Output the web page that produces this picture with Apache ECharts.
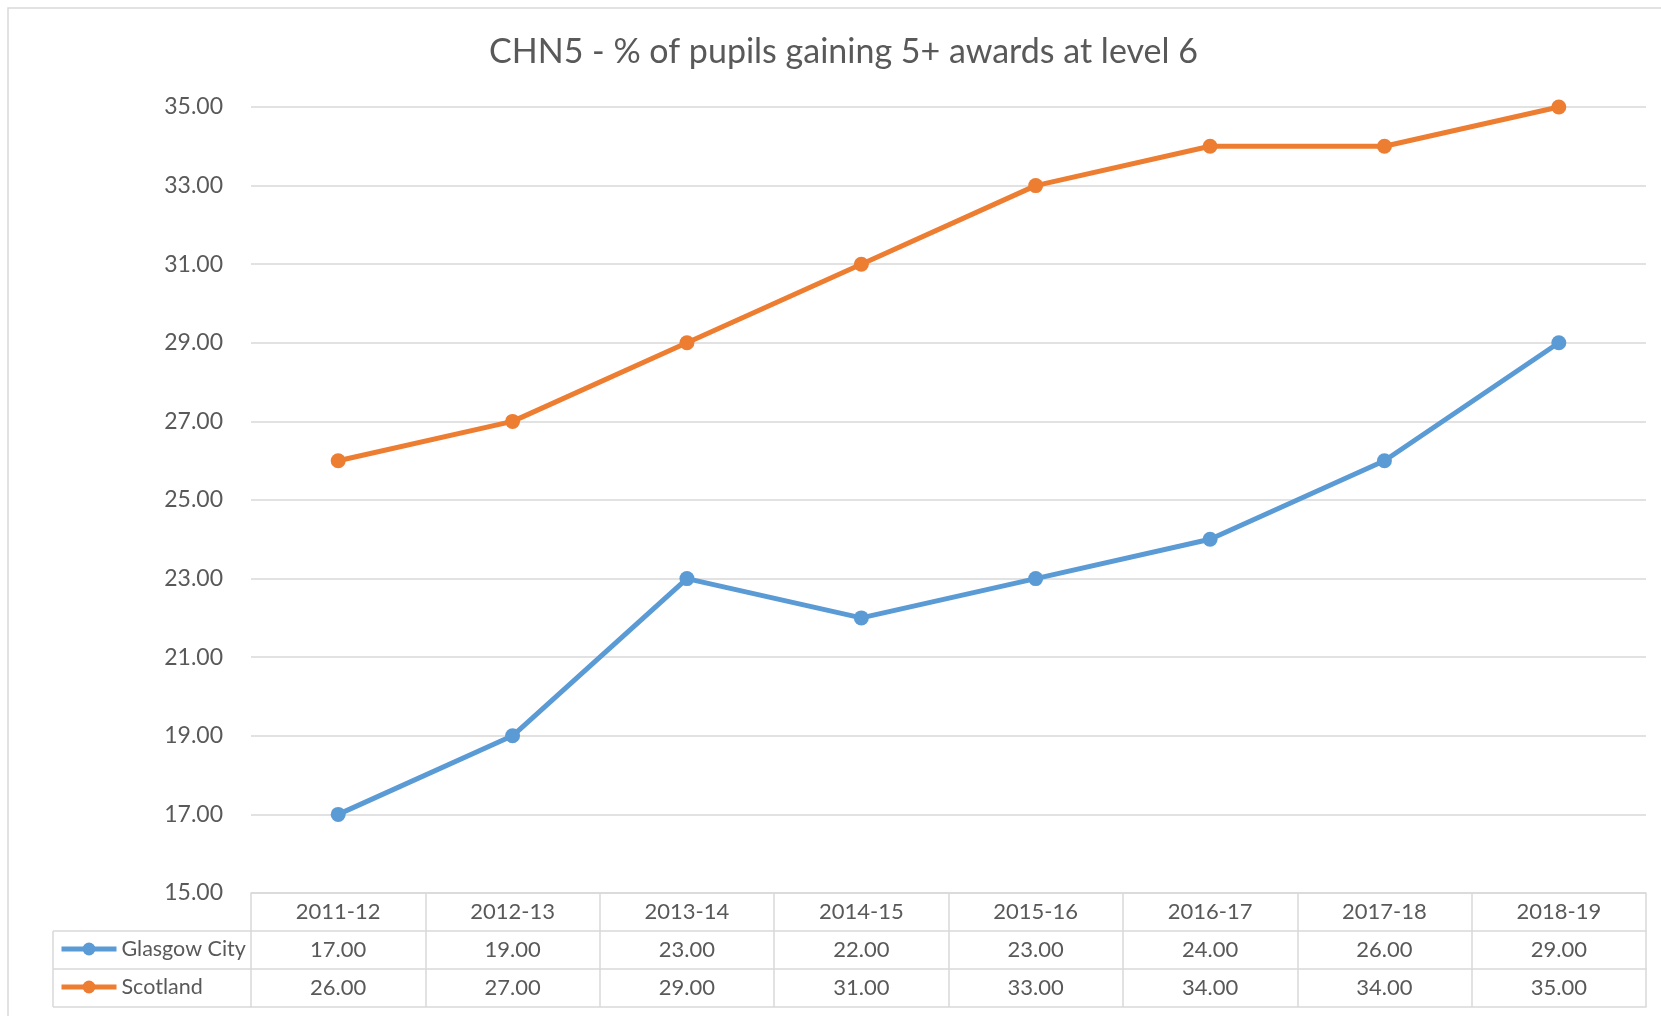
<!DOCTYPE html>
<html>
<head>
<meta charset="utf-8">
<script src="https://cdn.jsdelivr.net/npm/echarts@6/dist/echarts.min.js"></script>
<style>
    html, body { margin: 0; padding: 0; background: #fff; }
    #main { width: 1661px; height: 1016px; }
</style>
</head>
<body>
<div id="main"></div>
<script type="text/javascript">
    var years = ['2011-12', '2012-13', '2013-14', '2014-15', '2015-16', '2016-17', '2017-18', '2018-19'];
    var glasgow = [17, 19, 23, 22, 23, 24, 26, 29];
    var scotland = [26, 27, 29, 31, 33, 34, 34, 35];
    var yTicks = [15, 17, 19, 21, 23, 25, 27, 29, 31, 33, 35];

    var FONT = 'Lato';
    var GREY = '#595959';
    var LINE = '#d9d9d9';

    function fmt(v) { return Number(v).toFixed(2); }

    var myChart = echarts.init(document.getElementById('main'));

    // 表格行：每一行用一条类目轴来画
    function tableRow(data, offset, showLabel) {
        return {
            type: 'category',
            data: data,
            position: 'bottom',
            offset: offset,
            boundaryGap: true,
            axisLine: { show: true, lineStyle: { color: LINE, width: 1.5 } },
            axisTick: { show: showLabel, length: 38, interval: 0, lineStyle: { color: LINE, width: 1.5 } },
            axisLabel: { show: showLabel, interval: 0, margin: 8, fontSize: 22, color: GREY, fontFamily: FONT },
            splitLine: { show: false }
        };
    }

    var option = {
        animation: false,
        backgroundColor: '#fff',
        title: {
            text: 'CHN5 - % of pupils gaining 5+ awards at level 6',
            left: 489,
            top: 35,
            padding: 0,
            textStyle: { fontSize: 34, fontWeight: 'normal', color: GREY, fontFamily: FONT }
        },
        legend: {
            data: ['Glasgow City', 'Scotland'],
            orient: 'vertical',
            left: 59,
            top: 938,
            padding: 0,
            itemGap: 16,
            itemWidth: 55,
            itemHeight: 16,
            lineStyle: { width: 5 },
            textStyle: { fontSize: 21.5, color: GREY, fontFamily: FONT }
        },
        grid: { left: 251, right: 15, top: 107, bottom: 123, containLabel: false },
        xAxis: [
            tableRow(years, 0, true),
            tableRow(glasgow.map(fmt), 38, true),
            tableRow(scotland.map(fmt), 76, true),
            tableRow(years, 114, false)
        ],
        yAxis: {
            type: 'value',
            min: yTicks[0],
            max: yTicks[yTicks.length - 1],
            interval: 2,
            axisLine: { show: false },
            axisTick: { show: false },
            axisLabel: { margin: 28, fontSize: 23, color: GREY, fontFamily: FONT, formatter: fmt },
            splitLine: { lineStyle: { color: LINE, width: 1.5 } }
        },
        graphic: [
            { type: 'rect', silent: true, shape: { x: 8, y: 8, width: 1700, height: 1100 }, style: { fill: null, stroke: LINE, lineWidth: 1.5 } },
            { type: 'line', silent: true, shape: { x1: 53, y1: 931, x2: 251, y2: 931 }, style: { stroke: LINE, lineWidth: 1.5 } },
            { type: 'line', silent: true, shape: { x1: 53, y1: 969, x2: 251, y2: 969 }, style: { stroke: LINE, lineWidth: 1.5 } },
            { type: 'line', silent: true, shape: { x1: 53, y1: 1007, x2: 251, y2: 1007 }, style: { stroke: LINE, lineWidth: 1.5 } },
            { type: 'line', silent: true, shape: { x1: 53, y1: 931, x2: 53, y2: 1007 }, style: { stroke: LINE, lineWidth: 1.5 } }
        ],
        series: [
            {
                name: 'Glasgow City',
                type: 'line',
                xAxisIndex: 0,
                data: glasgow,
                symbol: 'circle',
                symbolSize: 15,
                color: '#5B9BD5',
                lineStyle: { width: 5 }
            },
            {
                name: 'Scotland',
                type: 'line',
                xAxisIndex: 0,
                data: scotland,
                symbol: 'circle',
                symbolSize: 15,
                color: '#ED7D31',
                lineStyle: { width: 5 }
            }
        ]
    };

    myChart.setOption(option);
</script>
</body>
</html>
